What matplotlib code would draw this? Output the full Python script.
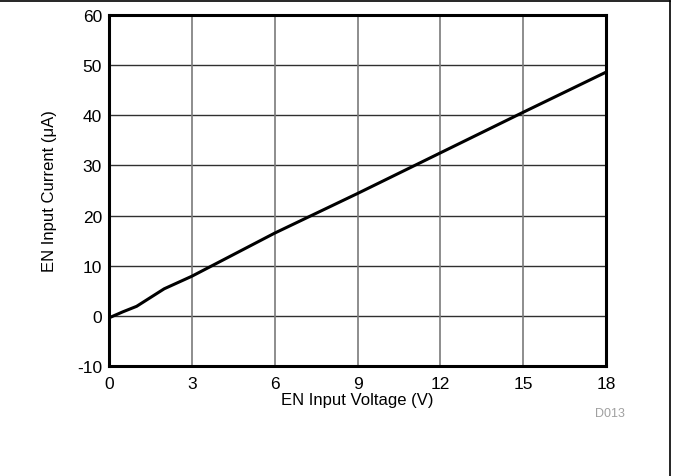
import matplotlib
matplotlib.use("Agg")
import matplotlib.pyplot as plt
from matplotlib.lines import Line2D

plt.rcParams['font.family'] = ['Liberation Sans', 'DejaVu Sans']
plt.rcParams['axes.unicode_minus'] = False

# EN pin current vs. applied voltage
en_voltage = [0, 0.5, 1.0, 2.0, 3.0, 6.0, 9.0, 12.0, 15.0, 18.0]
en_current = [-0.4, 0.8, 1.9, 5.4, 7.9, 16.5, 24.4, 32.5, 40.6, 48.6]

x_ticks = [0, 3, 6, 9, 12, 15, 18]
y_ticks = [-10, 0, 10, 20, 30, 40, 50, 60]

fig = plt.figure(figsize=(6.73, 4.77), dpi=100)
ax = fig.add_axes([109 / 673, 1 - 367 / 477, (606 - 109) / 673, (367 - 16) / 477])

ax.set_xlim(0, 18)
ax.set_ylim(-10, 60)
ax.set_xticks(x_ticks)
ax.set_yticks(y_ticks)
ax.tick_params(length=0, labelsize=12.5, colors='black')
ax.tick_params(axis='x', pad=7)
ax.tick_params(axis='y', pad=5)

# grid: horizontal lines a bit darker than vertical
for y in y_ticks[1:-1]:
    ax.axhline(y, color='#303030', lw=1.0, zorder=1)
for x in x_ticks[1:-1]:
    ax.axvline(x, color='#7a7a7a', lw=1.2, zorder=1)

ax.plot(en_voltage, en_current, color='black', lw=2.2, zorder=3,
        solid_joinstyle='round')

for s in ax.spines.values():
    s.set_linewidth(2.2)
    s.set_zorder(4)

ax.set_xlabel("EN Input Voltage (V)", fontsize=12, labelpad=1)
ax.set_ylabel("EN Input Current (\u03bcA)", fontsize=12, labelpad=14)

fig.text(610 / 673, 1 - 414 / 477, "D013", fontsize=9, color='#a0a0a0',
         ha='center', va='center')

# page frame along top and right edges
fig.add_artist(Line2D([0, 670 / 673], [1 - 2 / 477, 1 - 2 / 477],
                      transform=fig.transFigure, color='black', lw=1.2))
fig.add_artist(Line2D([670 / 673, 670 / 673], [0, 1 - 2 / 477],
                      transform=fig.transFigure, color='black', lw=1.2))

fig.savefig("out.png", dpi=100)
